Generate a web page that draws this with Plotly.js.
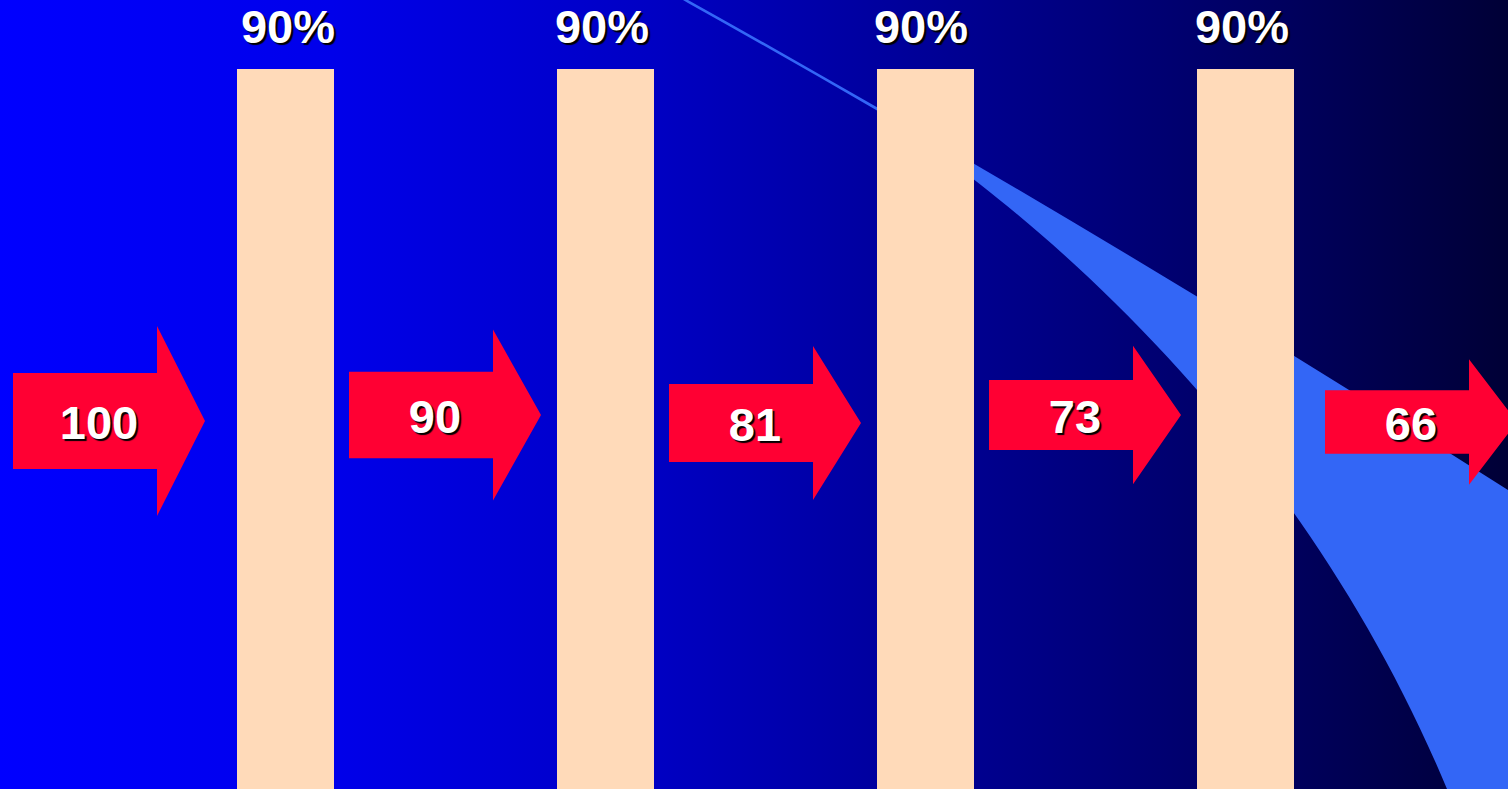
<!DOCTYPE html>
<html>
<head>
<meta charset="utf-8">
<script src="https://cdn.plot.ly/plotly-3.0.1.min.js"></script>
<style>
  html, body { margin: 0; padding: 0; overflow: hidden; }
  body {
    width: 1508px; height: 789px;
    background: linear-gradient(to right, #0000FF 0%, #0000EA 22%, #0000C4 43%, #00008E 65%, #00005C 86%, #000036 100%);
  }
  #chart { width: 1508px; height: 789px; }
</style>
</head>
<body>
<div id="chart"></div>
<script>
// ---- data ----
const flowValues = [100, 90, 81, 73, 66];          // amount entering each stage
const flowLabels = ["100", "90", "81", "73", "66"];
const stageRates = [90, 90, 90, 90];                // pass-through rate of each filter
const rateLabels = ["90%", "90%", "90%", "90%"];

// ---- layout constants (positions / sizes, not data) ----
const W = 1508, H = 789;
const arrowStartX = [13, 349, 669, 989, 1325];
const arrowMidY   = [421, 415, 423, 415, 422];
const bodyLen = 144, headLen = 48;
const bodyScale = 0.48, headScale = 0.95;          // half-heights per unit value
const barCenters = [285.5, 605.5, 925.5, 1245.5];
const labelX = [288, 602, 921, 1242];
const barWidth = 97, barTop = 69;
const labelY = 31;

const textFont = (size) => ({
  family: "Liberation Sans, Arial, sans-serif",
  size: size, color: "#FFFFFF", weight: 700,
  shadow: "2px 2px 1px #000000"
});

const traces = [];

// filter bars
traces.push({
  type: "bar",
  x: barCenters,
  y: stageRates.map(() => H - barTop),
  base: stageRates.map(() => barTop),
  width: barWidth,
  marker: { color: "#FFDAB9", line: { width: 0 } },
  hoverinfo: "skip"
});

// rate labels above bars
traces.push({
  type: "scatter", mode: "text",
  x: labelX,
  y: rateLabels.map(() => labelY),
  text: rateLabels,
  textposition: "middle center",
  textfont: textFont(47),
  hoverinfo: "skip"
});

// flow arrows, sized by value
flowValues.forEach((v, i) => {
  const x0 = arrowStartX[i], cy = arrowMidY[i];
  const bh = v * bodyScale, hh = v * headScale;
  const xb = x0 + bodyLen, xt = xb + headLen;
  traces.push({
    type: "scatter", mode: "lines",
    x: [x0, xb, xb, xt, xb, xb, x0, x0],
    y: [cy - bh, cy - bh, cy - hh, cy, cy + hh, cy + bh, cy + bh, cy - bh],
    fill: "toself", fillcolor: "#FF0033",
    line: { width: 0, color: "#FF0033" },
    hoverinfo: "skip"
  });
});

// flow value labels
traces.push({
  type: "scatter", mode: "text",
  x: flowValues.map((v, i) => arrowStartX[i] + 86),
  y: flowValues.map((v, i) => arrowMidY[i] + 6),
  text: flowLabels,
  textposition: "middle center",
  textfont: textFont(47),
  hoverinfo: "skip"
});

const layout = {
  width: W, height: H,
  margin: { l: 0, r: 0, t: 0, b: 0, pad: 0 },
  paper_bgcolor: "rgba(0,0,0,0)",
  plot_bgcolor: "rgba(0,0,0,0)",
  showlegend: false,
  xaxis: { range: [0, W], visible: false, fixedrange: true },
  yaxis: { range: [H, 0], visible: false, fixedrange: true },
  shapes: [{
    type: "path", layer: "below", xref: "x", yref: "y",
    path: "M 688,0 Q 1100,230 1508,490 L 1508,789 L 1447,789 " +
          "C 1297,429 1027,207.5 877,110.5 Q 782.8,55.9 688,3 L 683,0 Z",
    fillcolor: "#3366F6", line: { width: 0 }
  }]
};

Plotly.newPlot("chart", traces, layout, { displayModeBar: false, staticPlot: true });
</script>
</body>
</html>
